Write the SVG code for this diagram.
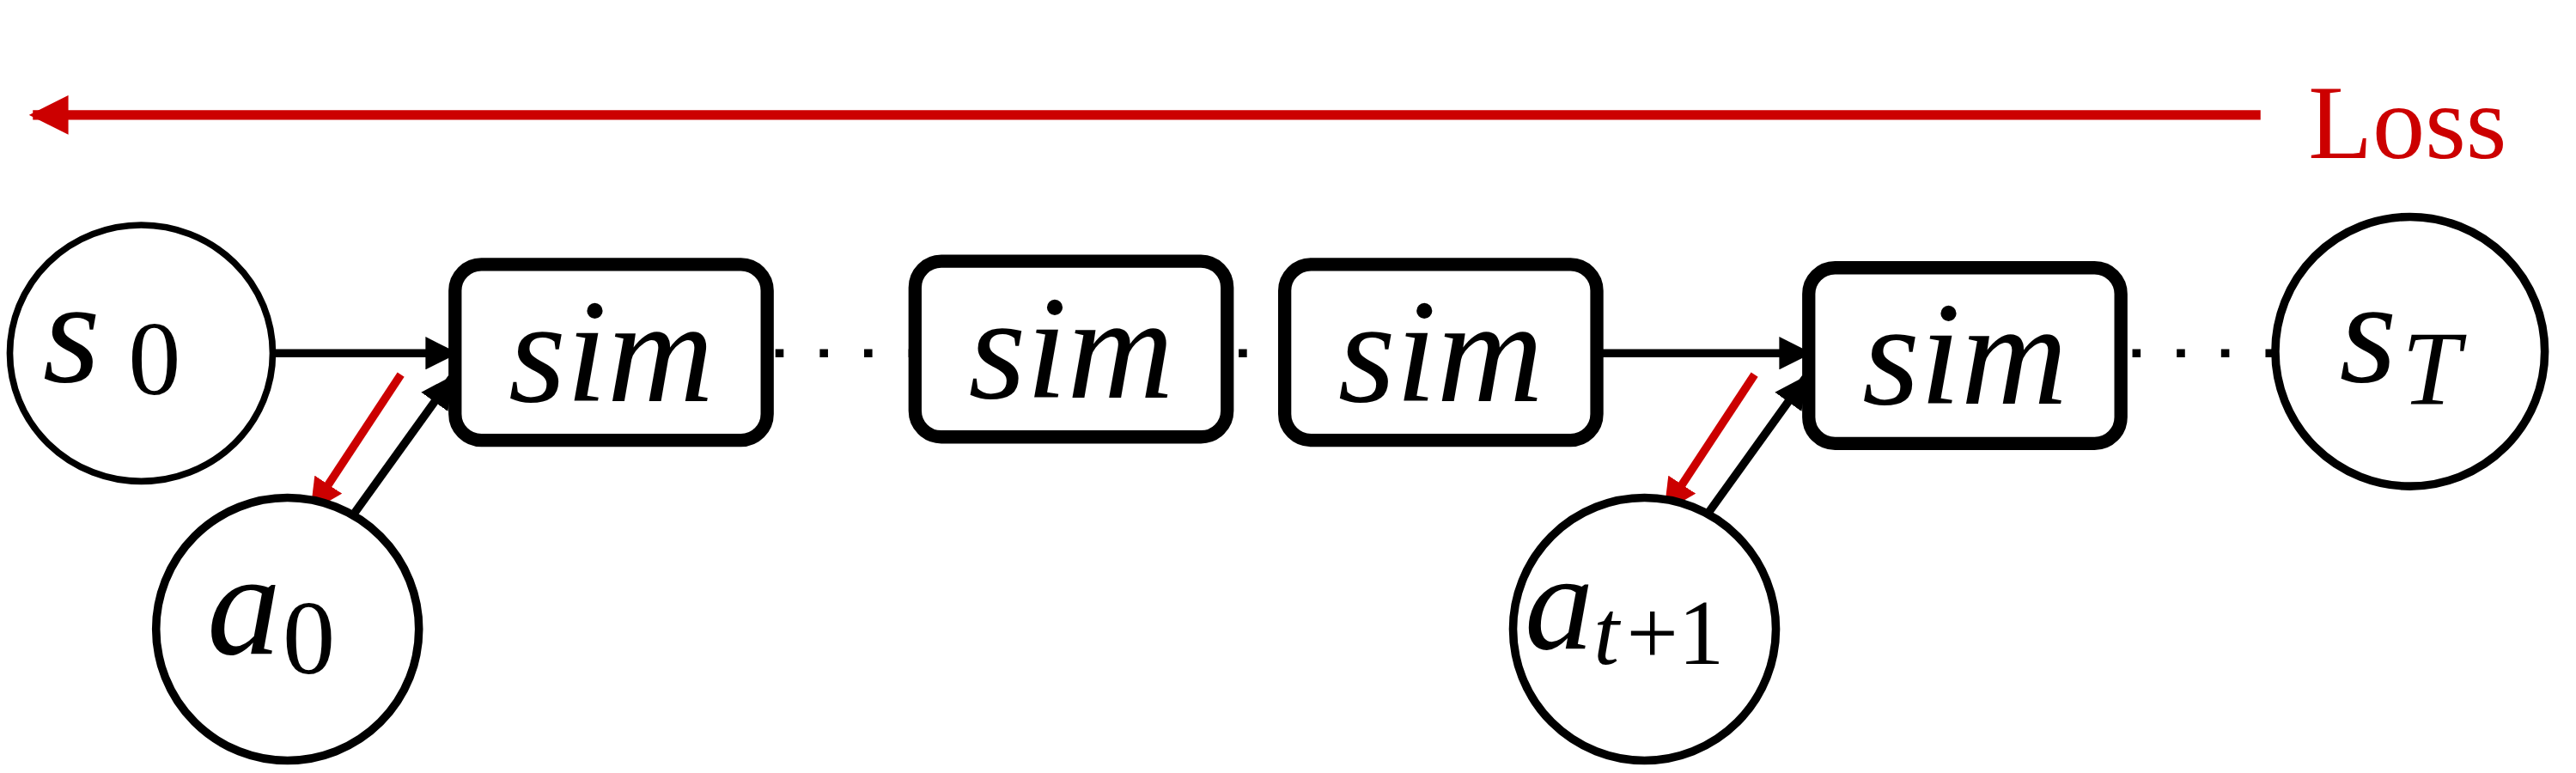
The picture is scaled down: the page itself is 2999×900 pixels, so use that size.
<svg xmlns="http://www.w3.org/2000/svg" width="2999" height="900" viewBox="0 0 2999 900">
<defs>
<style>
.n{fill:#fff;stroke:#000;stroke-width:5}
.b{fill:#fff;stroke:#000;stroke-width:8}
.m{font-family:"Liberation Serif",serif;font-style:italic;fill:#000}
.r{font-family:"Liberation Serif",serif;fill:#000}
.k{stroke:#000;stroke-width:5;fill:none}
.red{stroke:#c00;stroke-width:5;fill:none}
.dot{stroke:#000;stroke-width:5;stroke-dasharray:5 22;fill:none}
</style>
<marker id="ak" viewBox="0 0 10 10" refX="9" refY="5" markerWidth="4" markerHeight="4" orient="auto" markerUnits="strokeWidth"><path d="M0,0 L10,5 L0,10 z" fill="#000"/></marker>
<marker id="ar" viewBox="0 0 10 10" refX="9" refY="5" markerWidth="4" markerHeight="4" orient="auto" markerUnits="strokeWidth"><path d="M0,0 L10,5 L0,10 z" fill="#c00"/></marker>
</defs>
<rect width="2999" height="900" fill="#fff"/>
<g transform="scale(1.9126)">
<g id="connectors">
<line class="red" x1="1376" y1="70" x2="20" y2="70" marker-end="url(#ar)" style="stroke-width:6"/>
<line class="k" x1="166" y1="215" x2="277" y2="215" marker-end="url(#ak)"/>
<line class="k" x1="972" y1="215" x2="1101" y2="215" marker-end="url(#ak)"/>
<line class="k" x1="216" y1="312" x2="275" y2="230" marker-end="url(#ak)"/>
<line class="red" x1="244" y1="228" x2="190" y2="310" marker-end="url(#ar)"/>
<line class="k" x1="1040" y1="312" x2="1099" y2="230" marker-end="url(#ak)"/>
<line class="red" x1="1068" y1="228" x2="1014" y2="310" marker-end="url(#ar)"/>
<line class="dot" x1="472" y1="215" x2="556" y2="215"/>
<line class="dot" x1="754" y1="215" x2="782" y2="215"/>
<line class="dot" x1="1298" y1="215" x2="1384" y2="215"/>
</g>
<text x="1405" y="96" font-size="64" font-family="Liberation Serif, serif" fill="#c00">Loss</text>
<g id="s0"><ellipse class="n" cx="86" cy="215" rx="80" ry="78" style="stroke-width:4"/><text class="m" x="26" y="232" font-size="90">s</text><text class="r" x="78" y="240" font-size="64">0</text></g>
<g id="a0"><circle class="n" cx="175" cy="383" r="80"/><text class="m" x="126" y="398" font-size="90">a</text><text class="r" x="172" y="410" font-size="64">0</text></g>
<g id="sim1"><rect class="b" x="277" y="161" width="190" height="107" rx="16"/><text class="m" x="372" y="244" font-size="90" text-anchor="middle">sim</text></g>
<g id="sim2"><rect class="b" x="557" y="159" width="190" height="107" rx="16"/><text class="m" x="652" y="242" font-size="90" text-anchor="middle">sim</text></g>
<g id="sim3"><rect class="b" x="782" y="161" width="190" height="107" rx="16"/><text class="m" x="877" y="244" font-size="90" text-anchor="middle">sim</text></g>
<g id="sim4"><rect class="b" x="1101" y="163" width="190" height="107" rx="16"/><text class="m" x="1196" y="246" font-size="90" text-anchor="middle">sim</text></g>
<g id="sT"><circle class="n" cx="1467" cy="214" r="82"/><text class="m" x="1424" y="232" font-size="90">s</text><text class="m" x="1462" y="246" font-size="64">T</text></g>
<g id="at1"><circle class="n" cx="1001" cy="383" r="80"/><text class="m" x="928" y="395" font-size="84">a</text><text class="m" x="970" y="404" font-size="56">t</text><text class="r" x="990" y="404" font-size="56">+1</text></g>
</g>
</svg>
